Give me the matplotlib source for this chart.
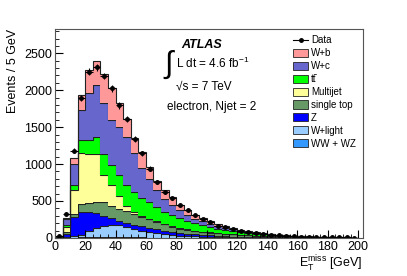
import matplotlib
matplotlib.use('Agg')
import matplotlib.pyplot as plt
import numpy as np
from matplotlib.patches import Patch
from matplotlib.lines import Line2D
from matplotlib.ticker import MultipleLocator

plt.rcParams['font.family'] = ['Liberation Sans', 'DejaVu Sans']
plt.rcParams['mathtext.fontset'] = 'custom'
plt.rcParams['mathtext.rm'] = 'Liberation Sans'
plt.rcParams['mathtext.it'] = 'Liberation Sans:italic'
plt.rcParams['mathtext.bf'] = 'Liberation Sans:bold'

# 5 GeV bins, 0-200 GeV
edges = np.arange(0, 205, 5)

# stack components, bottom to top
ww_wz = [1, 2, 4, 6, 8, 10, 10, 10, 9, 8, 7, 6, 5, 5, 4, 4, 3, 3, 3, 2,
         2, 2, 2, 1, 1, 1, 1, 1, 1, 1, 1, 1, 0, 0, 0, 0, 0, 0, 0, 0]
w_light = [0, 8, 16, 34, 82, 125, 147, 170, 163, 136, 112, 92, 72, 56, 46, 36, 29, 23, 18, 15,
           12, 9, 7, 7, 6, 4, 3, 3, 2, 2, 2, 1, 2, 1, 1, 1, 0, 0, 0, 0]
z_jets = [7, 45, 265, 315, 255, 205, 143, 85, 63, 61, 61, 62, 61, 57, 50, 45, 38, 32, 27, 23,
          19, 16, 13, 10, 8, 7, 6, 4, 4, 3, 2, 2, 1, 2, 1, 1, 2, 1, 1, 1]
single_top = [2, 20, 45, 105, 125, 150, 180, 170, 155, 155, 150, 125, 112, 97, 82, 67, 57, 52, 47, 42,
              39, 37, 34, 31, 27, 24, 21, 19, 16, 13, 11, 9, 8, 6, 5, 4, 3, 3, 2, 1]
multijet = [2, 75, 325, 688, 670, 650, 376, 285, 173, 68, 20, 15, 12, 10, 8, 7, 6, 5, 4, 4,
            3, 3, 2, 2, 2, 2, 1, 1, 1, 1, 1, 1, 1, 1, 1, 1, 0, 0, 0, 0]
ttbar = [0, 20, 65, 182, 190, 233, 279, 270, 293, 292, 270, 245, 220, 190, 165, 150, 130, 115, 100, 88,
         78, 60, 55, 47, 40, 33, 27, 22, 18, 15, 12, 10, 8, 7, 6, 5, 4, 3, 3, 2]
w_c = [2, 86, 280, 404, 638, 698, 689, 610, 644, 650, 530, 405, 315, 230, 175, 141, 112, 85, 62, 50,
       42, 30, 24, 19, 15, 12, 10, 8, 6, 5, 4, 3, 3, 2, 2, 1, 1, 1, 1, 1]
w_b = [1, 18, 81, 202, 302, 329, 400, 435, 333, 240, 200, 210, 158, 130, 118, 105, 77, 67, 56, 45,
       37, 25, 20, 16, 12, 10, 8, 6, 5, 4, 3, 3, 2, 2, 1, 1, 1, 1, 0, 0]

data = [20, 330, 1184, 1895, 2250, 2310, 2193, 2027, 1795, 1605, 1340, 1150, 940, 757, 620, 537, 448, 373, 305, 251,
        213, 168, 142, 120, 98, 82, 66, 54, 42, 35, 28, 22, 18, 15, 12, 10, 9, 7, 6, 5]

layers = [
    ('WW + WZ', ww_wz, '#3399ff'),
    ('W+light', w_light, '#99ccff'),
    ('Z', z_jets, '#0000ff'),
    ('single top', single_top, '#669966'),
    ('Multijet', multijet, '#ffff99'),
    ('tt\u0304', ttbar, '#00ff00'),
    ('W+c', w_c, '#6666cc'),
    ('W+b', w_b, '#ff9999'),
]

fig = plt.figure(figsize=(4.07, 2.76), dpi=100)
ax = fig.add_axes([0.135, 0.138, 0.756, 0.757])

bottom = np.zeros(len(edges) - 1)
for name, vals, col in layers:
    top = bottom + np.array(vals)
    ax.stairs(top, edges, baseline=bottom, fill=True, facecolor=col, edgecolor='none')
    ax.stairs(top, edges, baseline=None, color='#222222', lw=0.8)
    bottom = top

centers = edges[:-1] + 2.5
d = np.array(data)
ax.errorbar(centers, d, xerr=2.5, yerr=np.sqrt(d), fmt='o', ms=2.5, color='black',
            lw=0.8, capsize=0)

ax.set_xlim(0, 203)
ax.set_ylim(0, 2830)
ax.xaxis.set_major_locator(MultipleLocator(20))
ax.xaxis.set_minor_locator(MultipleLocator(5))
ax.yaxis.set_major_locator(MultipleLocator(500))
ax.yaxis.set_minor_locator(MultipleLocator(100))
ax.tick_params(which='both', direction='in', top=False, right=False, labelsize=9, pad=2)
ax.tick_params(which='major', length=6)
ax.tick_params(which='minor', length=3)
for s in ax.spines.values():
    s.set_color('#555555')
    s.set_linewidth(0.8)

ax.set_ylabel('Events / 5 GeV', fontsize=9, loc='top')
ax.set_xlabel(r'$\mathrm{E_T^{miss}}$ [GeV]', fontsize=9, loc='right', labelpad=1)

ax.text(0.41, 0.925, 'ATLAS', transform=ax.transAxes, fontsize=9, fontweight='bold',
        fontstyle='italic', va='center')
ax.text(0.35, 0.83, r'$\int$', transform=ax.transAxes, fontsize=22, va='center')
ax.text(0.393, 0.835, r'L dt = 4.6 fb$^{\mathrm{-1}}$', transform=ax.transAxes, fontsize=8.5, va='center')
ax.text(0.393, 0.722, '\u221as = 7 TeV', transform=ax.transAxes, fontsize=8.5, va='center')
ax.text(0.364, 0.627, 'electron, Njet = 2', transform=ax.transAxes, fontsize=8.5, va='center')

handles = [Line2D([0], [0], color='black', marker='o', ms=2.5, lw=0.8)]
labels = ['Data']
for name, vals, col in reversed(layers):
    handles.append(Patch(facecolor=col, edgecolor='#222222', lw=0.6))
    labels.append(name)
ax.legend(handles, labels, loc='upper left', bbox_to_anchor=(0.775, 0.97), fontsize=7,
          frameon=False, handlelength=1.5, handleheight=0.9, labelspacing=0.3,
          handletextpad=0.3, borderaxespad=0, borderpad=0)

fig.savefig('out.png', dpi=100)
